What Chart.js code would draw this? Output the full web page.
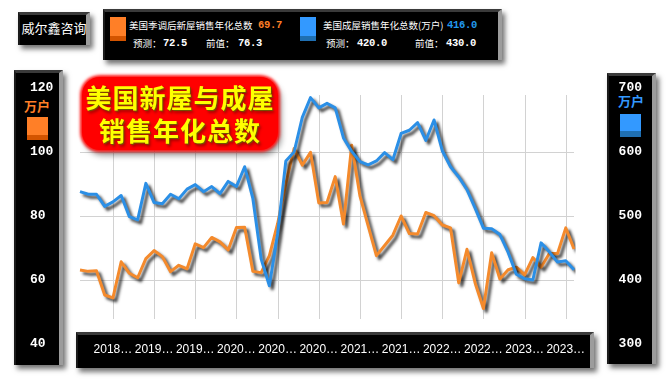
<!DOCTYPE html>
<html>
<head>
<meta charset="utf-8">
<script src="https://cdn.jsdelivr.net/npm/chart.js@4/dist/chart.umd.min.js"></script>
<style>
  html, body { margin: 0; padding: 0; background: #fff; }
  #wrap { position: relative; width: 666px; height: 383px; overflow: hidden; font-family: "Noto Sans CJK SC", sans-serif; }
  .box { position: absolute; box-sizing: border-box; background: #000;
         border-top: 3px solid #3a3a3a; border-left: 2px solid #1a1a1a; border-right: 4px solid #9c9c9c;
         box-shadow: 3px 4px 5px rgba(0,0,0,0.55); }
  .t { position: absolute; white-space: nowrap; line-height: 14px; }
  .cn { font-size: 9.5px; color: #fff; }
  .num { font-family: "Liberation Mono", monospace; font-weight: bold; font-size: 10.5px; color: #fff; letter-spacing: -0.3px; }
  .sq { position: absolute; }
  #chart { position: absolute; left: 0; top: 0; z-index: 1; }
  #title { position: absolute; left: 82px; top: 77px; width: 196px; height: 73px; z-index: 2;
           background: #ff0000; border-radius: 18px;
           box-shadow: 0 0 3px 2px #ff1a1a, 3px 5px 6px rgba(0,0,0,0.45);
           box-sizing: border-box; padding-top: 3px; text-align: center;
           font-size: 26px; font-weight: bold; line-height: 33px; letter-spacing: 1px; color: #ffff00;
           text-shadow: 1px 1px 1px #6b5a00, 2px 3px 3px rgba(0,0,0,0.35); }
</style>
</head>
<body>
<div id="wrap">
  <!-- header -->
  <div class="box" style="left:18px;top:12px;width:72px;height:33px;"></div>
  <div class="t" style="left:18px;top:21px;width:72px;text-align:center;font-size:13px;color:#fff;">威尔鑫咨询</div>

  <div class="box" style="left:103px;top:9px;width:399px;height:51px;"></div>
  <div class="sq" style="left:110px;top:17px;width:16px;height:19px;background:#ff7f27;"></div>
  <div class="sq" style="left:110px;top:36px;width:16px;height:5px;background:#d35400;"></div>
  <div class="t cn" style="left:129px;top:18px;">美国季调后新屋销售年化总数</div>
  <div class="t num" style="left:258px;top:18px;color:#ff7f27;">69.7</div>
  <div class="t cn" style="left:133px;top:36px;">预测：</div>
  <div class="t num" style="left:163px;top:36px;">72.5</div>
  <div class="t cn" style="left:206px;top:36px;">前值：</div>
  <div class="t num" style="left:238px;top:36px;">76.3</div>

  <div class="sq" style="left:300px;top:17px;width:16px;height:19px;background:#3399ff;"></div>
  <div class="sq" style="left:300px;top:36px;width:16px;height:5px;background:#1f6fb2;"></div>
  <div class="t cn" style="left:323px;top:18px;">美国成屋销售年化总数(万户)</div>
  <div class="t num" style="left:447px;top:18px;color:#2299ee;">416.0</div>
  <div class="t cn" style="left:326px;top:36px;">预测：</div>
  <div class="t num" style="left:357px;top:36px;">420.0</div>
  <div class="t cn" style="left:415px;top:36px;">前值：</div>
  <div class="t num" style="left:446px;top:36px;">430.0</div>

  <!-- axis panels -->
  <div class="box" style="left:14px;top:70px;width:49px;height:295px;"></div>
  <div class="t" style="left:24px;top:99px;font-size:13px;font-weight:bold;color:#ff7f27;">万户</div>
  <div class="sq" style="left:27px;top:117px;width:21px;height:18px;background:#ff7f27;"></div>
  <div class="sq" style="left:27px;top:135px;width:21px;height:5px;background:#d35400;"></div>

  <div class="box" style="left:607px;top:73px;width:49px;height:291px;"></div>
  <div class="t" style="left:618px;top:94px;font-size:13px;font-weight:bold;color:#3399ff;">万户</div>
  <div class="sq" style="left:620px;top:114px;width:21px;height:17px;background:#3399ff;"></div>
  <div class="sq" style="left:620px;top:131px;width:21px;height:6px;background:#1f6fb2;"></div>

  <div class="box" style="left:76px;top:332px;width:518px;height:36px;"></div>

  <canvas id="chart" width="666" height="383"></canvas>
  <div id="title">美国新屋与成屋<br>销售年化总数</div>
</div>

<script>
// release months (Jun 2018 data released Jul 2018 ... Jun 2023 data released Jul 2023)
const months = [
  '2018-07','2018-08','2018-09','2018-10','2018-11','2018-12',
  '2019-01','2019-02','2019-03','2019-04','2019-05','2019-06','2019-07','2019-08','2019-09','2019-10','2019-11','2019-12',
  '2020-01','2020-02','2020-03','2020-04','2020-05','2020-06','2020-07','2020-08','2020-09','2020-10','2020-11','2020-12',
  '2021-01','2021-02','2021-03','2021-04','2021-05','2021-06','2021-07','2021-08','2021-09','2021-10','2021-11','2021-12',
  '2022-01','2022-02','2022-03','2022-04','2022-05','2022-06','2022-07','2022-08','2022-09','2022-10','2022-11','2022-12',
  '2023-01','2023-02','2023-03','2023-04','2023-05','2023-06','2023-07'
];

// 美国季调后新屋销售年化总数 (万户)
const newHomeSales = [
  63.1, 62.7, 62.9, 55.3, 54.4, 65.7, 62.1,
  60.7, 66.7, 69.2, 67.3, 62.6, 64.6, 63.5, 71.3, 70.1, 73.3, 71.9, 69.4,
  76.4, 76.5, 62.7, 62.3, 67.6, 77.6, 90.1, 101.1, 95.9, 99.9, 84.1, 84.2,
  92.3, 77.5, 102.1, 86.3, 76.9, 67.6, 70.8, 74.0, 80.0, 74.5, 74.4, 81.1,
  80.1, 77.2, 76.3, 59.1, 69.6, 59.0, 51.1, 68.5, 60.3, 63.2, 64.0, 61.6,
  67.0, 64.0, 68.3, 68.3, 76.3, 69.7
];

// 美国成屋销售年化总数 (万户)
const existingHomeSales = [
  538, 534, 534, 515, 522, 532, 499,
  494, 551, 521, 519, 534, 527, 542, 549, 538, 546, 535, 554,
  546, 577, 527, 433, 391, 472, 586, 600, 654, 685, 669, 676,
  669, 622, 601, 585, 580, 586, 599, 588, 629, 634, 646, 618,
  650, 602, 577, 561, 541, 512, 481, 480, 471, 443, 409, 402,
  400, 458, 444, 428, 430, 416
];

const leftGridValues = [60, 80, 100];

function isTick(i) { return i % 5 === 4; }

// vertical grid lines at the shown ticks
const vGrid = {
  id: 'vGrid',
  beforeDatasetsDraw(chart) {
    const ctx = chart.ctx, x = chart.scales.x;
    ctx.save();
    ctx.strokeStyle = '#d2d2d2';
    ctx.lineWidth = 1;
    months.forEach(function (m, i) {
      if (!isTick(i)) return;
      const px = Math.round(x.getPixelForValue(i)) + 0.5;
      ctx.beginPath();
      ctx.moveTo(px, 95);
      ctx.lineTo(px, 319);
      ctx.stroke();
    });
    ctx.restore();
  }
};

// drop shadow under the lines
const lineShadow = {
  id: 'lineShadow',
  beforeDatasetDraw(chart) {
    const c = chart.ctx;
    c.save();
    c.shadowColor = 'rgba(0,0,0,0.75)';
    c.shadowBlur = 3;
    c.shadowOffsetX = 3;
    c.shadowOffsetY = 3;
  },
  afterDatasetDraw(chart) { chart.ctx.restore(); }
};

const tickFont = { family: 'Liberation Mono', size: 13, weight: 'bold' };

new Chart(document.getElementById('chart').getContext('2d'), {
  type: 'line',
  data: {
    labels: months,
    datasets: [
      {
        label: '美国成屋销售年化总数(万户)',
        data: existingHomeSales,
        borderColor: '#2b8fe6',
        yAxisID: 'y1'
      },
      {
        label: '美国季调后新屋销售年化总数',
        data: newHomeSales,
        borderColor: '#f48a2c',
        yAxisID: 'y'
      }
    ]
  },
  options: {
    responsive: false,
    animation: false,
    layout: { padding: { left: 30, right: 24, top: 88, bottom: 19 } },
    plugins: { legend: { display: false }, tooltip: { enabled: false } },
    elements: {
      point: { radius: 0 },
      line: { borderWidth: 3, tension: 0, borderJoinStyle: 'round', fill: false }
    },
    scales: {
      x: {
        offset: false,
        grid: { display: false, drawTicks: false },
        border: { display: false },
        ticks: {
          autoSkip: false, maxRotation: 0, padding: -2, color: '#fff',
          font: { family: 'Liberation Sans', size: 12 },
          callback: function (v, i) { return isTick(i) ? months[i].slice(0, 4) + '…' : null; }
        },
        afterFit: function (s) { s.height = 20; }
      },
      y: {
        position: 'left', min: 40, max: 120,
        ticks: { stepSize: 20, crossAlign: 'far', color: '#fff', font: tickFont },
        grid: {
          drawTicks: false,
          color: function (c) { return leftGridValues.includes(c.tick.value) ? '#d2d2d2' : 'rgba(0,0,0,0)'; }
        },
        border: { display: false },
        afterFit: function (s) { s.width = 50; }
      },
      y1: {
        position: 'right', min: 300, max: 700,
        ticks: { stepSize: 100, crossAlign: 'far', color: '#fff', font: tickFont },
        grid: { display: false, drawTicks: false },
        border: { display: false },
        afterFit: function (s) { s.width = 68; }
      }
    }
  },
  plugins: [vGrid, lineShadow]
});
</script>
</body>
</html>
